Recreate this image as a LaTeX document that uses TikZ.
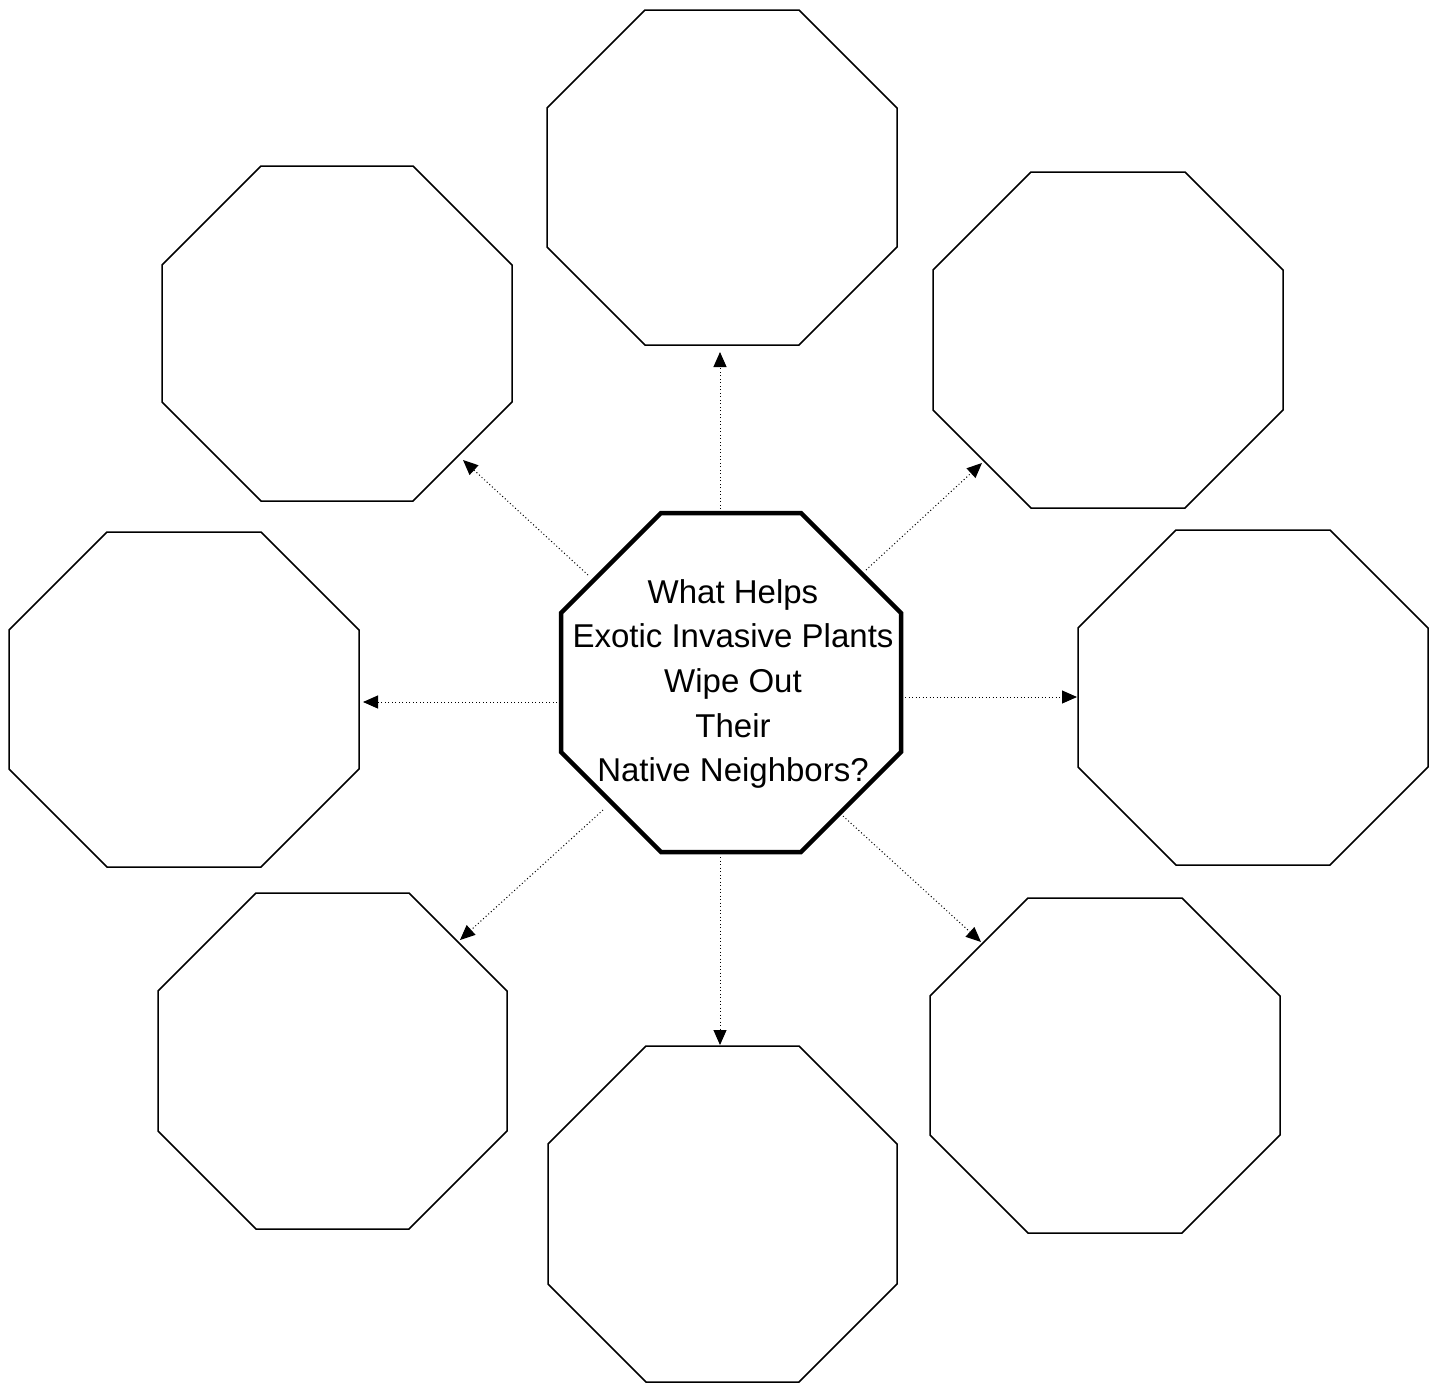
\documentclass[tikz,border=0pt]{standalone}
\usepackage{fontspec}
\setmainfont{Liberation Sans}
\usetikzlibrary{arrows.meta}
\tikzset{
  outerline/.style={draw=black, line width=1.5pt, line join=miter},
  centreline/.style={draw=black, line width=4.5pt, line join=miter},
  link/.style={draw=black, line width=1pt, dash pattern=on 1pt off 2.5pt,
    -{Triangle[length=15pt,width=13pt]}},
  question/.style={align=center, inner sep=0pt, font=\fontsize{33}{44.7}\selectfont}
}
% #1 style, #2 L, #3 T, #4 R, #5 B, #6 corner cut
\newcommand{\octshape}[6][outerline]{%
  \draw[#1] ({#2+#6},#3) -- ({#4-#6},#3) -- (#4,{#3+#6}) -- (#4,{#5-#6})
    -- ({#4-#6},#5) -- ({#2+#6},#5) -- (#2,{#5-#6}) -- (#2,{#3+#6}) -- cycle;}
\begin{document}
\begin{tikzpicture}[x=1pt,y=-1pt]
\useasboundingbox (0,0) rectangle (1437,1384);
% outer octagons
\octshape{547}{10}{897}{345}{98}
\octshape{162}{166}{512}{501}{99}
\octshape{933}{172}{1283}{508}{98}
\octshape{9}{532}{359}{867}{98}
\octshape{1078}{530}{1428}{865}{98}
\octshape{158}{893}{507}{1229}{98}
\octshape{930}{898}{1280}{1233}{98}
\octshape{548}{1046}{897}{1382}{98}
% centre octagon
\octshape[centreline]{561}{513}{901}{852}{100}
\node[question] (q) at (733,684) {What Helps\\Exotic Invasive Plants\\Wipe Out\\Their\\Native Neighbors?};
% arrow end points
\coordinate (sT) at (720,509);  \coordinate (eT) at (720,352);
\coordinate (sUL) at (588,575); \coordinate (eUL) at (463,460);
\coordinate (sUR) at (866,570); \coordinate (eUR) at (982,463);
\coordinate (sL) at (557,702);  \coordinate (eL) at (363,702);
\coordinate (sR) at (905,697);  \coordinate (eR) at (1077,697);
\coordinate (sLL) at (603,810); \coordinate (eLL) at (460,940);
\coordinate (sLR) at (843,816); \coordinate (eLR) at (981,942);
\coordinate (sB) at (720,857);  \coordinate (eB) at (720,1045);
\foreach \d in {T,UL,UR,L,R,LL,LR,B} \draw[link] (s\d) -- (e\d);
\end{tikzpicture}
\end{document}
